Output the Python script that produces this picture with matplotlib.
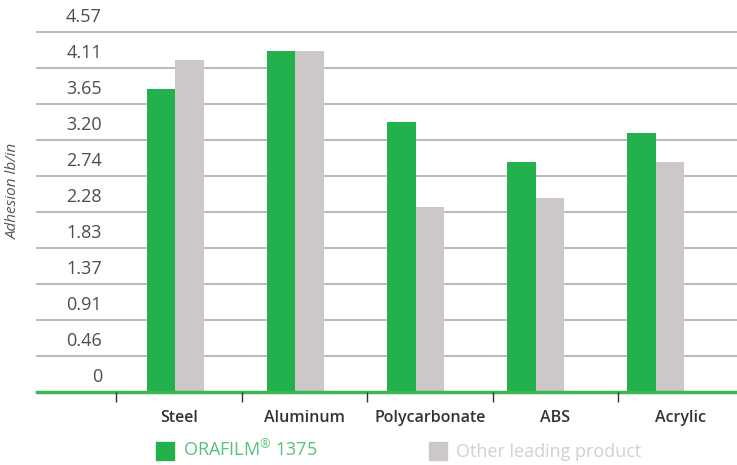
import matplotlib
matplotlib.use("Agg")
import matplotlib.pyplot as plt
from matplotlib.patches import Patch
from matplotlib.transforms import ScaledTranslation
import numpy as np

categories = ["Steel", "Aluminum", "Polycarbonate", "ABS", "Acrylic"]
orafilm = [3.85, 4.33, 3.43, 2.92, 3.29]
other = [4.21, 4.33, 2.35, 2.46, 2.92]
ytick_values = [0, 0.457, 0.914, 1.371, 1.828, 2.285, 2.742, 3.199, 3.656, 4.113, 4.57]
ytick_labels = ["0", "0.46", "0.91", "1.37", "1.83", "2.28", "2.74", "3.20", "3.65", "4.11", "4.57"]
series_names = [r"ORAFILM$^{\rm ®}$ 1375", "Other leading product"]
y_title = "Adhesion lb/in"

GREEN = "#23b14d"
GRAY = "#ccc8c7"
AXIS_GREEN = "#3cb552"

plt.rcParams['font.family'] = ['Open Sans', 'DejaVu Sans']
plt.rcParams['mathtext.fontset'] = 'custom'
plt.rcParams['mathtext.rm'] = 'Open Sans'

W, H = 737, 465
fig = plt.figure(figsize=(W / 100, H / 100), dpi=100)

L, R, B, T = 37, 737, 391.5, 32
ax = fig.add_axes([L / W, (H - B) / H, (R - L) / W, (B - T) / H])

x = np.arange(len(categories))
bw = 0.2375
ax.bar(x - bw / 2, orafilm, bw, color=GREEN, zorder=3)
ax.bar(x + bw / 2, other, bw, color=GRAY, zorder=3)
ax.set_xlim(-1.154, 4.679)
ax.set_ylim(0, 4.57)

ax.set_yticks(ytick_values)
ax.yaxis.grid(True, color="#b5b5b5", lw=1.3, zorder=0)
ax.set_axisbelow(True)
for gl in ax.get_ygridlines():
    gl.set_clip_on(False)
for s in ["top", "left", "right"]:
    ax.spines[s].set_visible(False)
ax.spines["bottom"].set_color(AXIS_GREEN)
ax.spines["bottom"].set_linewidth(2.5)
ax.spines["bottom"].set_zorder(4)

off = ScaledTranslation(0, 0.15, fig.dpi_scale_trans)
for v, lab in zip(ytick_values, ytick_labels):
    ax.text((102 - L) / (R - L), v, lab, transform=ax.get_yaxis_transform() + off,
            ha='right', va='center', fontsize=13, color="#4d4d4d")

ax2 = ax.twiny()
ax2.set_xlim(-0.6295, 4.948)
ax2.xaxis.set_ticks_position('bottom')
ax2.set_xticks(np.arange(len(categories)))
ax2.set_xticks(np.arange(len(categories)) + 0.5, minor=True)
ax2.set_xticklabels(categories, minor=True)
ax2.tick_params(axis='x', which='major', length=7.2, width=1, color='#333333',
                labelbottom=False, labeltop=False, direction='out')
ax2.tick_params(axis='x', which='minor', length=0, pad=13, labelsize=11.5,
                labelcolor='#333333', labelbottom=True, labeltop=False)
for lbl in ax2.get_xticklabels(minor=True):
    lbl.set_fontweight('semibold')
for s in ax2.spines.values():
    s.set_visible(False)

# main axes: no x ticks (twiny re-enables them, so set afterwards)
ax.tick_params(axis='x', which='both', bottom=False, top=False,
               labelbottom=False, labeltop=False)
ax.tick_params(axis='y', length=0, labelleft=False)

handles = [Patch(color=GREEN), Patch(color=GRAY)]
leg = fig.legend(handles, series_names, loc='center', bbox_to_anchor=(398.5 / W, 14.5 / H),
                 ncol=2, frameon=False, fontsize=13, handlelength=1.0, handleheight=1.1,
                 handletextpad=0.5, columnspacing=6.2, borderpad=0, borderaxespad=0)
leg.get_texts()[0].set_color("#55c275")
leg.get_texts()[1].set_color("#d3d0cf")

fig.text(13 / W, (H - 191) / H, y_title, rotation=90, style='italic', fontsize=11,
         color='#555555', ha='center', va='center')

fig.savefig("out.png", dpi=100)
